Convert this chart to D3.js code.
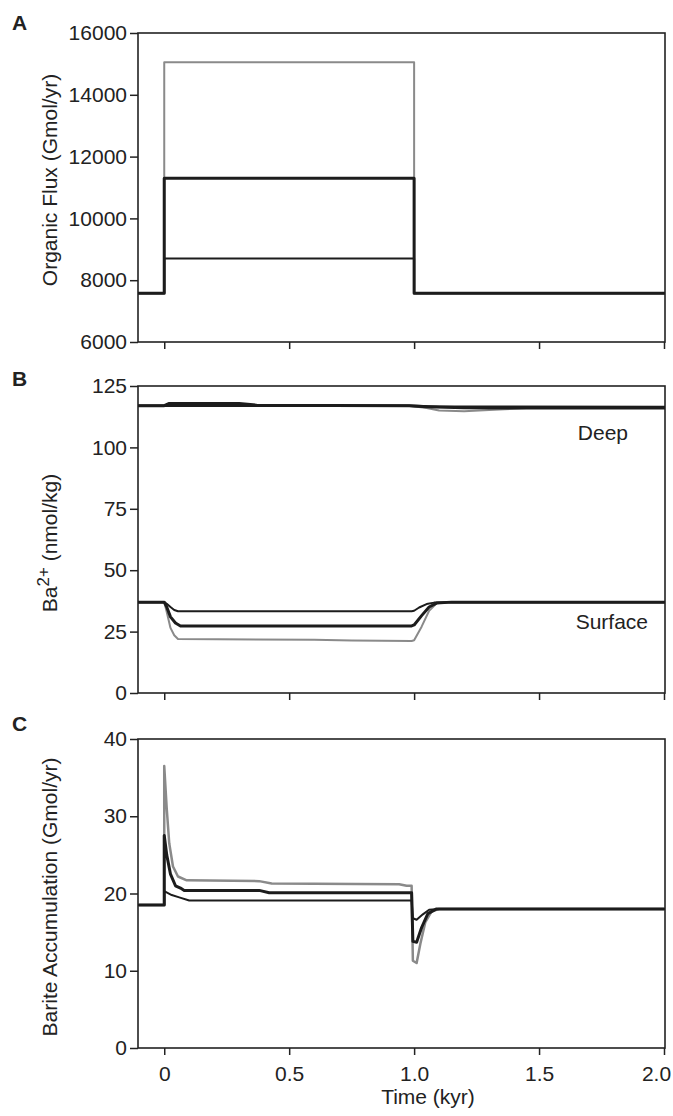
<!DOCTYPE html>
<html>
<head>
<meta charset="utf-8">
<script src="https://cdn.jsdelivr.net/npm/d3@7"></script>
<style>
  body { margin: 0; background: #fff; }
  text { font-family: "Liberation Sans", Arial, sans-serif; fill: #222; }
</style>
</head>
<body>
<script>
// x ticks shared by all three panels
const timeTicks = [0, 0.5, 1.0, 1.5, 2.0];
const timeTickLabels = ['0', '0.5', '1.0', '1.5', '2.0'];

// panel A : organic flux (Gmol/yr), [time kyr, value]
const fluxTicks = [6000, 8000, 10000, 12000, 14000, 16000];
const fluxHigh = [[-0.105, 7580], [0, 7580], [0, 15050], [1.0, 15050], [1.0, 7580], [2.004, 7580]];
const fluxMid  = [[-0.105, 7580], [0, 7580], [0, 11300], [1.0, 11300], [1.0, 7580], [2.004, 7580]];
const fluxLow  = [[-0.105, 7580], [0, 7580], [0, 8700], [1.0, 8700], [1.0, 7580], [2.004, 7580]];

// panel B : Ba2+ (nmol/kg)
const baTicks = [0, 25, 50, 75, 100, 125];
const deepHigh = [[-0.105, 117], [0.5, 117], [0.98, 117], [1.05, 116], [1.1, 115], [1.2, 114.7], [1.3, 115.2], [1.45, 116], [2.004, 116]];
const deepMid  = [[-0.105, 117], [0, 117], [0.02, 117.9], [0.3, 117.9], [0.37, 117.2], [0.98, 117], [1.05, 116.6], [1.2, 116.1], [2.004, 116]];
const deepLow  = [[-0.105, 117], [0.98, 117], [1.1, 116.6], [2.004, 116.4]];
const surfHigh = [[-0.105, 37], [0, 37], [0.01, 33], [0.025, 26.5], [0.04, 23.5], [0.055, 22], [0.6, 21.7], [0.75, 21.4], [0.99, 21.2], [1.0, 21.5], [1.03, 27], [1.06, 33.5], [1.09, 36.5], [1.15, 37], [2.004, 37]];
const surfMid  = [[-0.105, 37], [0, 37], [0.01, 35], [0.025, 31], [0.045, 28.5], [0.065, 27.3], [0.99, 27.3], [1.0, 27.7], [1.03, 31.5], [1.06, 35], [1.09, 36.6], [1.15, 37], [2.004, 37]];
const surfLow  = [[-0.105, 37], [0, 37], [0.01, 36.3], [0.025, 35], [0.04, 33.8], [0.055, 33.3], [0.99, 33.3], [1.0, 33.5], [1.02, 34.8], [1.05, 36.2], [1.08, 36.8], [1.15, 37], [2.004, 37]];

// panel C : barite accumulation (Gmol/yr)
const bariteTicks = [0, 10, 20, 30, 40];
const bariteHigh = [[-0.105, 18.5], [0, 18.5], [0, 36.5], [0.01, 31], [0.02, 26.5], [0.035, 23.5], [0.055, 22.2], [0.09, 21.7], [0.38, 21.6], [0.43, 21.3], [0.94, 21.2], [0.97, 21.0], [0.99, 21.0], [0.995, 11.3], [1.01, 11.0], [1.025, 13.5], [1.045, 16.3], [1.07, 17.7], [1.1, 18.0], [2.004, 18.0]];
const bariteMid  = [[-0.105, 18.5], [0, 18.5], [0, 27.5], [0.01, 25], [0.025, 22.5], [0.045, 21], [0.065, 20.7], [0.08, 20.4], [0.38, 20.4], [0.42, 20.1], [0.99, 20.1], [0.995, 13.8], [1.01, 13.7], [1.03, 15.6], [1.055, 17.4], [1.09, 18.0], [2.004, 18.0]];
const bariteLow  = [[-0.105, 18.5], [0, 18.5], [0, 20.3], [0.03, 19.8], [0.06, 19.5], [0.1, 19.1], [0.99, 19.1], [0.995, 16.8], [1.01, 16.6], [1.035, 17.3], [1.06, 17.9], [1.1, 18.0], [2.004, 18.0]];

const grey = '#8a8a8a';
const black = '#1c1c1c';

function styleAxis(g) {
    g.select('.domain').remove();
    g.selectAll('line').attr('stroke', '#222').attr('stroke-width', 1.5);
    g.selectAll('text').attr('font-size', '21px').attr('fill', '#222')
        .style('font-family', '"Liberation Sans", Arial, sans-serif');
}

function drawPanel(svg, p, scaleX) {
    const scaleY = d3.scaleLinear().domain(p.domain).range([p.bottom, p.top]);
    const left = scaleX.range()[0];
    const right = scaleX.range()[1];

    // frame
    svg.append('rect')
        .attr('x', left)
        .attr('y', p.top)
        .attr('width', right - left)
        .attr('height', p.bottom - p.top)
        .attr('fill', 'none')
        .attr('stroke', '#222')
        .attr('stroke-width', 1.6);

    // axes
    const yAxis = d3.axisLeft(scaleY).tickValues(p.ticks).tickFormat(d3.format('d'))
        .tickSize(8).tickSizeOuter(0).tickPadding(3);
    svg.append('g')
        .attr('transform', `translate(${left},0)`)
        .call(yAxis)
        .call(styleAxis);

    const xAxis = d3.axisBottom(scaleX).tickValues(timeTicks).tickSize(7).tickSizeOuter(0).tickPadding(11)
        .tickFormat((d, i) => p.xLabels ? timeTickLabels[i] : '');
    const gx = svg.append('g')
        .attr('transform', `translate(0,${p.bottom})`)
        .call(xAxis)
        .call(styleAxis);
    // last label sits a little left so it stays inside the page
    gx.selectAll('text').filter(d => d === 2.0).attr('dx', -8);

    // lines
    const line = d3.line().x(d => scaleX(d[0])).y(d => scaleY(d[1]));
    p.series.forEach(s => {
        svg.append('path')
            .datum(s.data)
            .attr('d', line)
            .attr('fill', 'none')
            .attr('stroke', s.color)
            .attr('stroke-width', s.width)
            .attr('stroke-linejoin', 'round');
    });

    // panel letter
    svg.append('text')
        .attr('x', 12)
        .attr('y', p.letterY)
        .attr('font-size', '21px')
        .attr('font-weight', 'bold')
        .text(p.letter);

    // y title
    const title = svg.append('text')
        .attr('transform', `translate(57,${p.titleY}) rotate(-90)`)
        .attr('text-anchor', 'middle')
        .attr('font-size', '21px');
    p.title.forEach(t => {
        const ts = title.append('tspan').text(t.text);
        if (t.sup) ts.attr('font-size', '17px').attr('dy', -8);
        if (t.after) ts.attr('dy', 8);
    });

    return scaleY;
}

function renderSVG() {
    const width = 673;
    const height = 1116;

    const svg = d3.select('body')
        .append('svg')
        .attr('width', width)
        .attr('height', height);

    const scaleX = d3.scaleLinear().domain([-0.105, 2.004]).range([138, 665]);

    const panels = [
        {
            letter: 'A', letterY: 30, top: 33, bottom: 342, domain: [6000, 16000], ticks: fluxTicks,
            titleY: 180, title: [{ text: 'Organic Flux (Gmol/yr)' }],
            series: [
                { data: fluxHigh, color: grey, width: 2 },
                { data: fluxLow, color: black, width: 2 },
                { data: fluxMid, color: black, width: 3 }
            ]
        },
        {
            letter: 'B', letterY: 386, top: 386, bottom: 693, domain: [0, 125], ticks: baTicks,
            titleY: 543, title: [{ text: 'Ba' }, { text: '2+', sup: true }, { text: ' (nmol/kg)', after: true }],
            series: [
                { data: deepHigh, color: grey, width: 2 },
                { data: deepLow, color: black, width: 2.5 },
                { data: deepMid, color: black, width: 3 },
                { data: surfHigh, color: grey, width: 2 },
                { data: surfLow, color: black, width: 2 },
                { data: surfMid, color: black, width: 3 }
            ]
        },
        {
            letter: 'C', letterY: 731, top: 739, bottom: 1048, domain: [0, 40], ticks: bariteTicks, xLabels: true,
            titleY: 897, title: [{ text: 'Barite Accumulation (Gmol/yr)' }],
            series: [
                { data: bariteHigh, color: grey, width: 2.5 },
                { data: bariteLow, color: black, width: 2 },
                { data: bariteMid, color: black, width: 3 }
            ]
        }
    ];

    const scales = panels.map(p => drawPanel(svg, p, scaleX));

    // curve labels in panel B
    svg.append('text')
        .attr('x', 628)
        .attr('y', scales[1](103))
        .attr('text-anchor', 'end')
        .attr('font-size', '21px')
        .text('Deep');

    svg.append('text')
        .attr('x', 648)
        .attr('y', scales[1](26))
        .attr('text-anchor', 'end')
        .attr('font-size', '21px')
        .text('Surface');

    // x title
    svg.append('text')
        .attr('x', 428)
        .attr('y', 1104)
        .attr('text-anchor', 'middle')
        .attr('font-size', '21px')
        .text('Time (kyr)');
}

window.addEventListener('load', function() {
    requestAnimationFrame(renderSVG);
});
</script>
</body>
</html>
